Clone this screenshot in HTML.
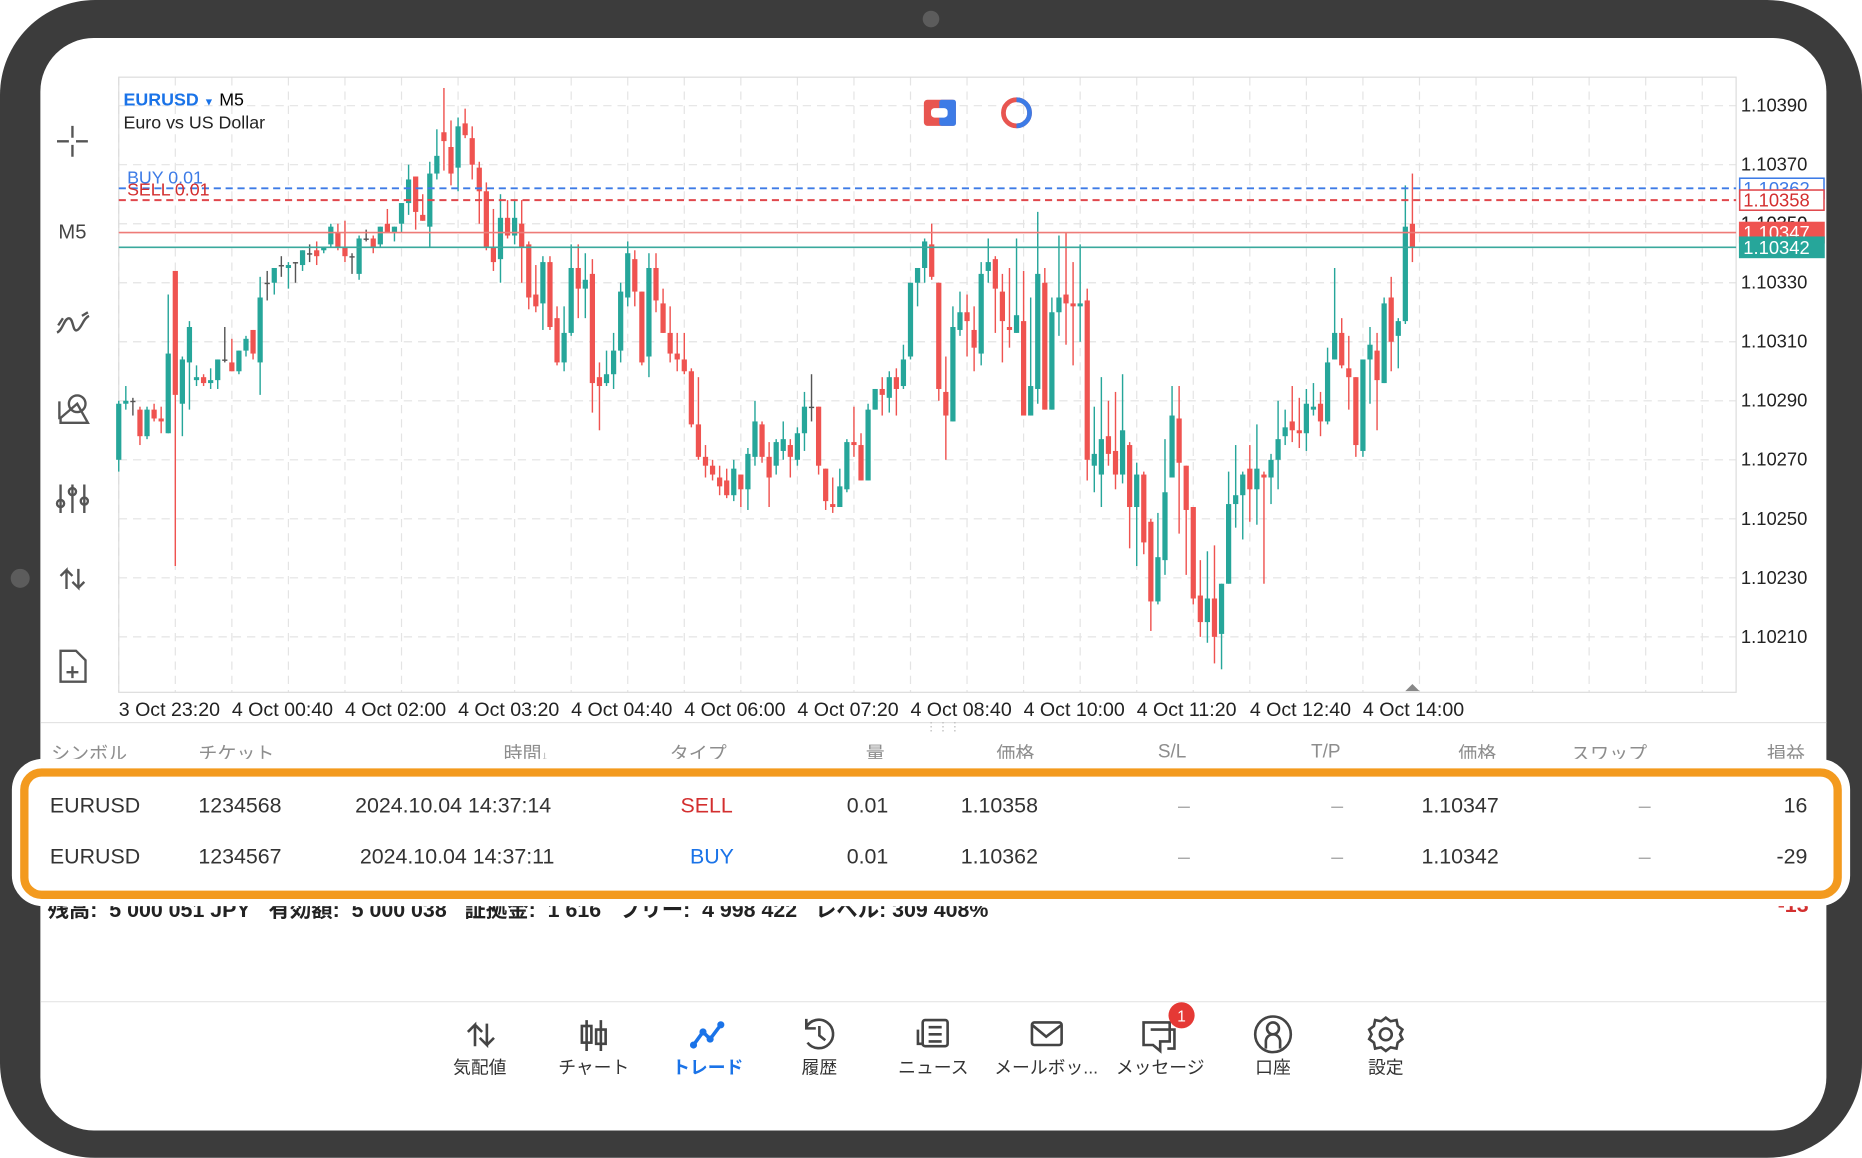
<!DOCTYPE html>
<html><head><meta charset="utf-8">
<style>
html,body{margin:0;padding:0;background:#fff;width:1862px;height:1158px;overflow:hidden}
#wrap{position:absolute;left:0;top:0;width:1568px;height:975px;transform:scale(1.1875);transform-origin:0 0;font-family:"Liberation Sans","Noto Sans CJK JP",sans-serif}
.abs{position:absolute;white-space:nowrap}
.hd{top:621px;font-size:16px;color:#8d8d8d}
.r{font-size:18px;color:#333}
.nav{position:absolute;top:888px;font-size:15px;color:#333;transform:translateX(-50%);white-space:nowrap}
</style></head>
<body>
<div id="wrap">
<svg width="1568" height="975" style="position:absolute;left:0;top:0">
  <rect x="0" y="0" width="1568" height="975" rx="80" fill="#3c3c3c"/>
  <rect x="34" y="32" width="1504" height="920" rx="45" fill="#fff"/>
  <circle cx="784" cy="16" r="7" fill="#5c5c5c"/>
  <circle cx="17" cy="487" r="8" fill="#5c5c5c"/>
</svg>

<svg id="chart" width="1568" height="975" style="position:absolute;left:0;top:0"></svg>

<svg width="60" height="500" style="position:absolute;left:31px;top:90px" fill="none" stroke="#555" stroke-width="2">
  <g><path d="M30 16v10M30 32v10M17 29h10M33 29h10"/></g>
  <text x="30" y="111" font-size="17" fill="#444" stroke="none" text-anchor="middle" font-family="Liberation Sans">M5</text>
  <g><path d="M17 190c5-2 6-12 10-12s3 12 7 10 5-10 10-12M22 178l-4 6M38 176l5-3"/></g>
  <g><circle cx="34" cy="250" r="7"/><path d="M20 262l14-12 9 16H20zM19 248v15"/></g>
  <g><path d="M20 318v24M30 318v24M40 318v24"/><circle cx="20" cy="334" r="3"/><circle cx="30" cy="324" r="3"/><circle cx="40" cy="332" r="3"/></g>
  <g><path d="M25 406v-16l-5 5M25 390l5 5M35 389v16l-5-5M35 405l5-5"/></g>
  <g><path d="M20 458h13l8 8v18H20z M30 471v10M25 476h10"/></g>
</svg>

<div class="abs" style="left:104px;top:76px;font-size:15px"><b style="color:#1a73e8">EURUSD</b> <span style="color:#1a73e8;font-size:9px">▼</span> M5</div>
<div class="abs" style="left:104px;top:95px;font-size:15px;color:#222">Euro vs US Dollar</div>
<svg width="120" height="40" style="position:absolute;left:770px;top:78px">
  <rect x="8" y="6" width="27" height="22" rx="3" fill="#e85550"/><rect x="21" y="6" width="14" height="22" rx="2" fill="#3d7be6"/><rect x="14" y="13" width="14" height="8" rx="3" fill="#fff"/>
  <circle cx="86" cy="17" r="11" fill="none" stroke="#e85550" stroke-width="4"/><path d="M86 6a11 11 0 0 1 0 22" fill="none" stroke="#3d7be6" stroke-width="4"/>
</svg>

<div class="abs" style="left:34px;top:608px;width:1504px;border-top:1px solid #e3e3e3"></div>
<div class="abs" style="left:779px;top:607px;font-size:10px;color:#bbb">⋮⋮⋮</div>
<div class="abs hd" style="left:43px">シンボル</div>
<div class="abs hd" style="left:167px">チケット</div>
<div class="abs hd" style="left:424px">時間<span style="font-size:11px">↓</span></div>
<div class="abs hd" style="left:564px">タイプ</div>
<div class="abs hd" style="left:729px">量</div>
<div class="abs hd" style="left:839px">価格</div>
<div class="abs hd" style="left:975px;top:625px">S/L</div>
<div class="abs hd" style="left:1104px;top:625px">T/P</div>
<div class="abs hd" style="left:1228px">価格</div>
<div class="abs hd" style="left:1323px">スワップ</div>
<div class="abs hd" style="left:1488px">損益</div>

<div class="abs" style="left:40px;top:752px;font-size:18px;font-weight:bold;color:#222">残高:&nbsp; 5 000 051 JPY&nbsp;&nbsp; 有効額:&nbsp; 5 000 038&nbsp;&nbsp; 証拠金:&nbsp; 1 616&nbsp;&nbsp; フリー:&nbsp; 4 998 422&nbsp;&nbsp; レベル: 309 408%</div>
<div class="abs" style="left:1497px;top:752px;font-size:18px;font-weight:bold;color:#d32f2f">-13</div>

<div class="abs" style="left:10px;top:639px;width:1548px;height:124px;background:#fff;border-radius:26px"></div>
<div class="abs" style="left:17px;top:647px;width:1520px;height:96px;border:7px solid #f39a1e;border-radius:18px;background:#fff"></div>

<div>
<div class="abs r" style="left:42px;top:668px">EURUSD</div>
<div class="abs r" style="left:167px;top:668px">1234568</div>
<div class="abs r" style="left:299px;top:668px">2024.10.04 14:37:14</div>
<div class="abs r" style="left:573px;top:668px;color:#d32f2f">SELL</div>
<div class="abs r" style="left:713px;top:668px">0.01</div>
<div class="abs r" style="left:809px;top:668px">1.10358</div>
<div class="abs r" style="left:992px;top:668px;color:#aaa">–</div>
<div class="abs r" style="left:1121px;top:668px;color:#aaa">–</div>
<div class="abs r" style="left:1197px;top:668px">1.10347</div>
<div class="abs r" style="left:1380px;top:668px;color:#aaa">–</div>
<div class="abs r" style="left:1502px;top:668px">16</div>
</div>
<div>
<div class="abs r" style="left:42px;top:711px">EURUSD</div>
<div class="abs r" style="left:167px;top:711px">1234567</div>
<div class="abs r" style="left:303px;top:711px">2024.10.04 14:37:11</div>
<div class="abs r" style="left:581px;top:711px;color:#1a73e8">BUY</div>
<div class="abs r" style="left:713px;top:711px">0.01</div>
<div class="abs r" style="left:809px;top:711px">1.10362</div>
<div class="abs r" style="left:992px;top:711px;color:#aaa">–</div>
<div class="abs r" style="left:1121px;top:711px;color:#aaa">–</div>
<div class="abs r" style="left:1197px;top:711px">1.10342</div>
<div class="abs r" style="left:1380px;top:711px;color:#aaa">–</div>
<div class="abs r" style="left:1496px;top:711px">-29</div>
</div>

<div class="abs" style="left:34px;top:843px;width:1504px;border-top:1px solid #e6e6e6"></div>
<svg width="1568" height="60" style="position:absolute;left:0;top:845px" fill="none" stroke="#444" stroke-width="2.2">
  <path d="M400 36V18l-6 6M400 18l6 6M410 17v18l-6-6M410 35l6-6"/>
  <path d="M494 14v26M506 14v26"/><rect x="490" y="19" width="8" height="14"/><rect x="502" y="22" width="8" height="12"/>
  <path d="M584 35l8-11 6 6 9-12" stroke="#1a73e8" stroke-width="3"/><circle cx="584" cy="35" r="3" fill="#1a73e8" stroke="none"/><circle cx="592" cy="24" r="3" fill="#1a73e8" stroke="none"/><circle cx="598" cy="30" r="3" fill="#1a73e8" stroke="none"/><circle cx="607" cy="18" r="3" fill="#1a73e8" stroke="none"/>
  <path d="M679 20a12 12 0 1 1 1 13M679 13v8h8M690 19v8l5 4"/>
  <rect x="777" y="14" width="21" height="22" rx="2"/><path d="M773 22v12h4M782 20h11M782 26h11M782 32h11"/>
  <rect x="869" y="16" width="25" height="19" rx="2"/><path d="M869 18l12 10 13-10"/>
  <path d="M963 16h22v16h-8v8l-6-5h-8z"/><path d="M969 22h20v16h-6"/>
  <circle cx="1072" cy="26" r="15"/><circle cx="1072" cy="21" r="5"/><path d="M1066 38v-6a6 6 0 0 1 12 0v6"/>
  <circle cx="1167" cy="26" r="5"/><path d="M1167 12l4 3 5-1 1 5 4 3-2 4 2 4-4 3-1 5-5-1-4 3-4-3-5 1-1-5-4-3 2-4-2-4 4-3 1-5 5 1z"/>
</svg>
<svg width="30" height="30" style="position:absolute;left:981px;top:840px"><circle cx="14" cy="15" r="11" fill="#e53935"/><text x="14" y="20" font-size="13" fill="#fff" text-anchor="middle" font-family="Liberation Sans">1</text></svg>
<div class="nav" style="left:404px">気配値</div>
<div class="nav" style="left:500px">チャート</div>
<div class="nav" style="left:596px;color:#1a73e8;font-weight:bold">トレード</div>
<div class="nav" style="left:690px">履歴</div>
<div class="nav" style="left:786px">ニュース</div>
<div class="nav" style="left:881px">メールボッ...</div>
<div class="nav" style="left:977px">メッセージ</div>
<div class="nav" style="left:1072px">口座</div>
<div class="nav" style="left:1167px">設定</div>
</div>

<script>
const opens  = [270,289,290,287,278,287,284,279,334,289,303,297,298,296,297,304,303,300,307,314,303,330,330,336,335,337,336,340,341,341,343,347,342,339,333,345,345,343,350,347,350,357,366,353,349,367,381,376,369,384,379,369,361,342,338,352,346,350,343,326,323,337,318,303,313,335,328,333,298,296,299,307,325,338,327,305,335,323,313,306,304,300,282,271,268,264,263,258,265,260,271,282,271,268,273,275,270,279,288,288,267,255,254,260,276,275,263,287,294,291,298,295,305,330,335,343,330,293,283,314,320,314,306,334,338,327,315,313,317,285,294,330,287,320,326,323,322,324,268,265,278,273,265,275,254,265,249,222,236,264,284,268,254,224,215,223,211,228,255,258,267,260,265,264,270,278,283,280,279,287,289,283,304,313,301,298,273,304,307,296,325,312,317,350];
const highs  = [290,295,291,288,288,289,288,326,334,305,317,302,299,301,304,315,311,307,312,314,332,334,335,339,337,337,341,343,344,342,350,350,351,340,346,348,346,349,355,349,357,370,366,360,371,382,396,385,386,389,383,371,364,355,360,358,358,358,344,336,339,339,322,322,343,343,340,338,303,307,313,330,344,341,327,340,340,328,322,313,313,301,298,275,270,268,267,270,265,274,290,283,276,277,283,277,281,293,299,288,267,264,267,277,288,279,289,294,298,300,301,309,330,335,345,350,330,305,322,327,326,322,337,345,339,333,335,345,334,325,354,335,325,346,347,337,343,328,288,298,290,293,299,276,269,266,250,252,277,295,295,268,254,236,239,241,228,266,275,266,275,282,266,272,290,287,295,291,294,296,293,308,335,318,312,298,304,315,313,325,332,318,363,367];
const lows   = [266,287,285,275,277,283,279,279,234,278,287,295,295,294,294,303,300,299,305,304,292,324,326,332,328,330,334,337,336,340,342,341,337,333,331,344,340,342,347,344,347,353,348,351,342,365,368,363,361,379,365,350,341,334,330,345,343,330,321,320,314,314,302,300,312,318,318,286,280,295,294,303,322,322,302,298,320,313,303,300,299,281,270,264,263,258,257,256,254,253,268,269,254,265,270,264,268,273,283,265,253,252,254,259,271,263,263,287,285,286,285,294,304,322,330,331,290,270,283,312,305,300,302,330,313,303,308,313,285,285,289,287,287,312,309,302,310,263,259,254,268,260,262,240,234,238,212,221,231,264,245,231,221,210,208,201,199,228,247,243,249,248,228,255,260,275,276,274,273,285,278,282,304,301,287,271,271,289,280,296,300,301,316,337];
const closes = [289,290,290,278,287,284,283,306,292,304,315,298,296,297,304,304,300,307,311,306,325,330,335,336,336,337,341,340,339,342,349,342,339,339,345,345,342,349,347,349,357,365,354,351,367,373,378,367,383,380,370,361,342,337,352,346,352,342,325,322,337,315,303,313,335,328,331,296,295,299,307,327,340,327,303,335,324,313,306,304,300,282,271,268,265,261,258,267,260,272,283,271,264,276,277,271,279,288,288,268,256,254,261,276,275,263,287,294,292,298,294,304,330,335,344,332,294,285,315,320,317,308,333,337,328,317,314,319,285,295,333,287,320,325,323,322,323,270,272,277,272,265,280,254,265,242,222,237,259,285,269,253,223,215,223,210,228,255,258,265,260,267,264,270,277,281,280,279,289,288,283,303,313,302,298,275,304,309,297,323,310,317,349,342];
const priceTicks = [390,370,350,330,310,290,270,250,230,210];
const timeLabels = ["3 Oct 23:20","4 Oct 00:40","4 Oct 02:00","4 Oct 03:20","4 Oct 04:40","4 Oct 06:00","4 Oct 07:20","4 Oct 08:40","4 Oct 10:00","4 Oct 11:20","4 Oct 12:40","4 Oct 14:00"];
const orderLevels = [362,358];
const bidAsk = [347,342];

const NS='http://www.w3.org/2000/svg';
const svg=document.getElementById('chart');
const X0=100, X1=1462, Y0=65, Y1=583, STEP=5.953;
function yScale(v){return 89+(390-v)*2.485;}
function xScale(i){return X0+i*STEP;}
function el(tag,attrs,parent){const e=document.createElementNS(NS,tag);for(const k in attrs)e.setAttribute(k,attrs[k]);(parent||svg).appendChild(e);return e;}

const grid=el('g',{});


priceTicks.forEach(v=>{el('line',{x1:X0,x2:X1,y1:yScale(v),y2:yScale(v),stroke:'#e4e4e4','stroke-dasharray':'7 5'},grid);});
for(let i=0;xScale(i)<X1;i+=8){el('line',{x1:xScale(i),x2:xScale(i),y1:Y0,y2:Y1,stroke:'#e4e4e4','stroke-dasharray':'7 5'},grid);}
const frame=el('rect',{x:X0,y:Y0,width:X1-X0,height:Y1-Y0,fill:'none',stroke:'#dcdcdc'});



const yAxis=el('g',{});


priceTicks.forEach(v=>{const t=el('text',{x:1466,y:yScale(v)+5,'font-size':15.5,fill:'#222','font-family':'Liberation Sans'},yAxis);t.textContent='1.10'+v;});
el('text',{x:1466,y:yScale(350)+5,'font-size':15.5,fill:'#222','font-family':'Liberation Sans'},yAxis).textContent='1.10350';

const xAxis=el('g',{});


timeLabels.forEach((s,k)=>{const t=el('text',{x:xScale(k*16),y:603,'font-size':16.5,fill:'#222','font-family':'Liberation Sans'},xAxis);t.textContent=s;});

const cg=el('g',{});


for(let i=0;i<closes.length;i++){
  const o=opens[i],c=closes[i],h=highs[i],l=lows[i];
  const col=c>o?'#26a69a':(c<o?'#ef5350':'#555');
  const x=xScale(i);
  const g=el('g',{},cg);
  
  
  el('line',{x1:x,x2:x,y1:yScale(h),y2:yScale(l),stroke:col,'stroke-width':1.2},g);
  const top=yScale(Math.max(o,c)),bot=yScale(Math.min(o,c));
  el('rect',{x:x-2.2,y:top,width:4.4,height:Math.max(1.2,bot-top),fill:col},g);
}

const lines=el('g',{});


el('line',{x1:X0,x2:X1,y1:yScale(orderLevels[0]),y2:yScale(orderLevels[0]),stroke:'#3d7be6','stroke-width':1.6,'stroke-dasharray':'6 4'},lines);
el('line',{x1:X0,x2:X1,y1:yScale(orderLevels[1]),y2:yScale(orderLevels[1]),stroke:'#e0474c','stroke-width':1.6,'stroke-dasharray':'6 4'},lines);
el('line',{x1:X0,x2:X1,y1:yScale(bidAsk[0]),y2:yScale(bidAsk[0]),stroke:'#ee7b78','stroke-width':1.3},lines);
el('line',{x1:X0,x2:X1,y1:yScale(bidAsk[1]),y2:yScale(bidAsk[1]),stroke:'#3aa99d','stroke-width':1.3},lines);
el('text',{x:107,y:yScale(orderLevels[0])-4,'font-size':15,fill:'#3d7be6','font-family':'Liberation Sans'},lines).textContent='BUY 0.01';
el('text',{x:107,y:yScale(orderLevels[1])-4,'font-size':15,fill:'#d32f2f','font-family':'Liberation Sans'},lines).textContent='SELL 0.01';

function tag(v,fill,stroke,tc,name){
  const g=el('g',{});
  
  
  const y=yScale(v);
  el('rect',{x:1465,y:y-8.5,width:71,height:17,fill:fill,stroke:stroke,'stroke-width':1.3},g);
  el('text',{x:1468,y:y+5.5,'font-size':15.5,fill:tc,'font-family':'Liberation Sans'},g).textContent='1.10'+v;
}
tag(orderLevels[0],'#fff','#3d7be6','#3d7be6','buy-price-tag');
tag(orderLevels[1],'#fff','#e0474c','#d32f2f','sell-price-tag');
tag(bidAsk[0],'#ef5350','#ef5350','#fff','bid-price-tag');
tag(bidAsk[1],'#26a69a','#26a69a','#fff','ask-price-tag');

const tri=el('path',{d:`M${xScale(closes.length-1)-6} ${Y1-1} l6 -6 l6 6z`,fill:'#888'});


</script>
</body></html>
